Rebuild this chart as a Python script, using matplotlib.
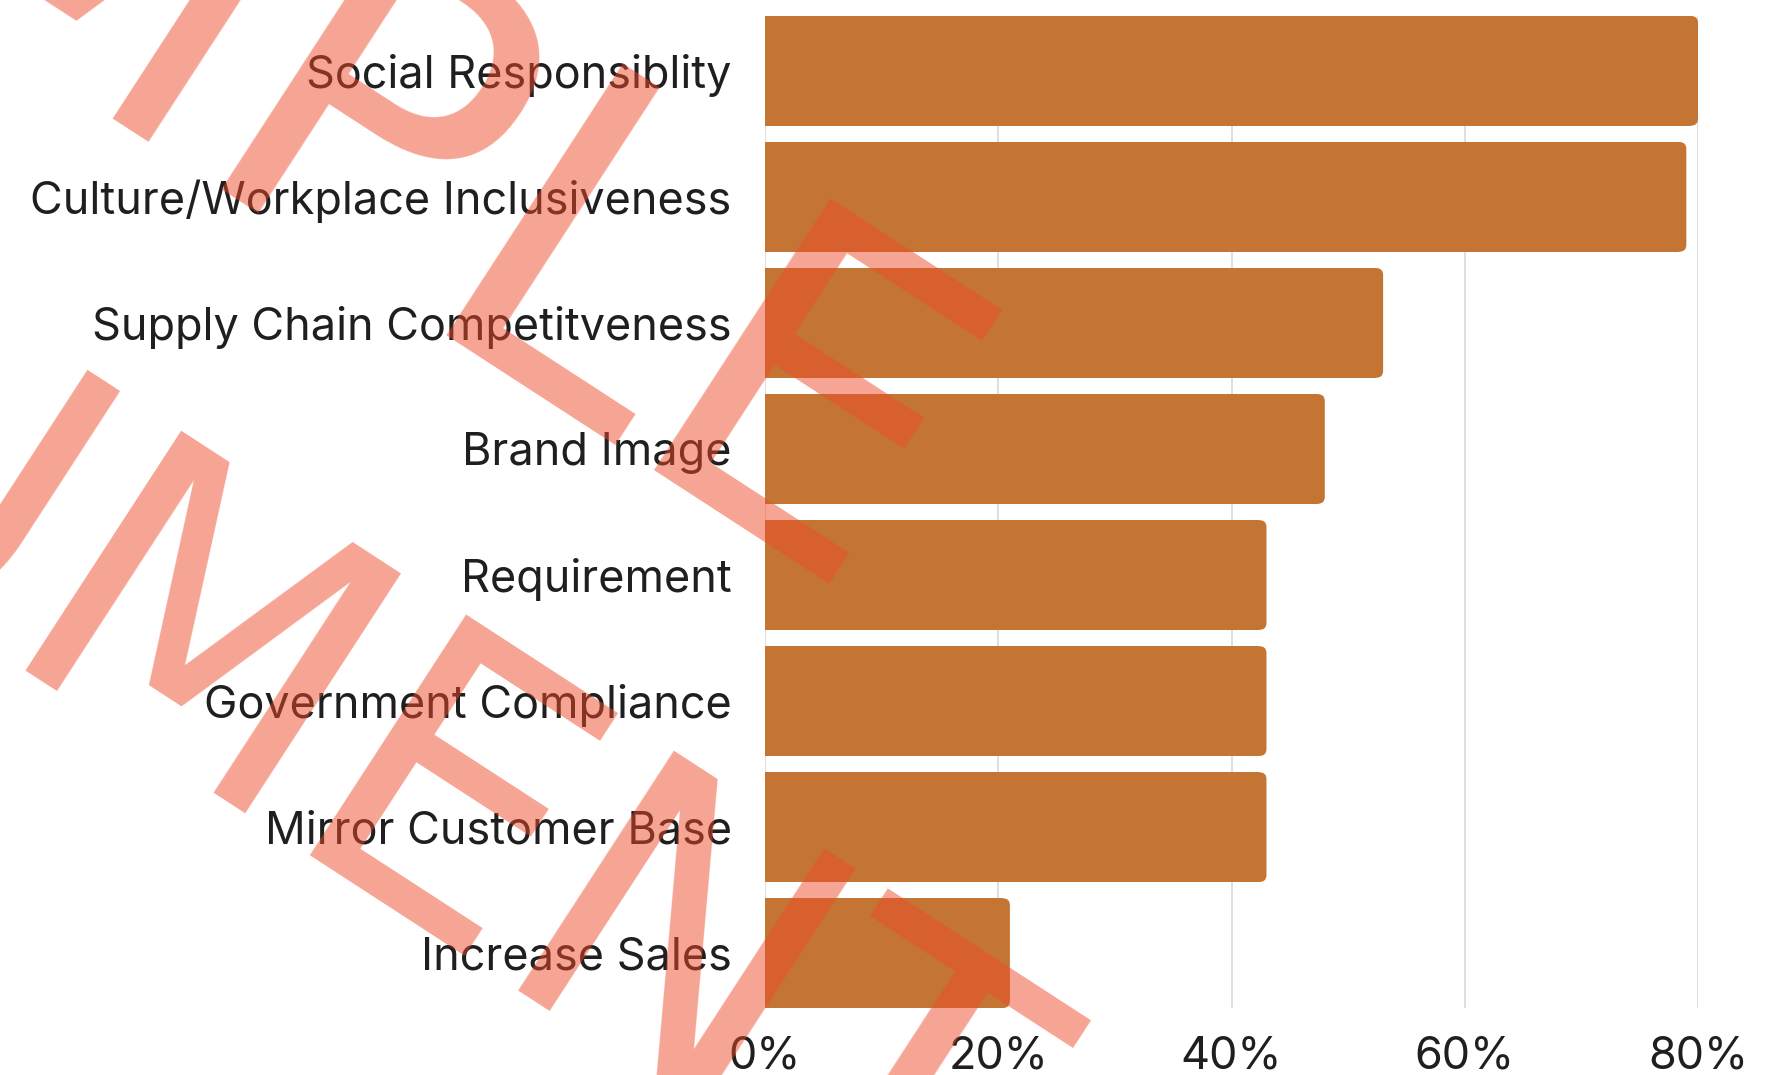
import numpy as np
from matplotlib import pyplot as plt
from matplotlib.patches import FancyBboxPatch
import matplotlib as mpl

mpl.rc('font', family=['Inter', 'DejaVu Sans'])

# data
reasons = ["Social Responsiblity", "Culture/Workplace Inclusiveness",
           "Supply Chain Competitveness", "Brand Image", "Requirement",
           "Government Compliance", "Mirror Customer Base", "Increase Sales"]
shares = [0.80, 0.79, 0.53, 0.48, 0.43, 0.43, 0.43, 0.21]
xticks = [0.0, 0.2, 0.4, 0.6, 0.8]
xticklabels = ["0%", "20%", "40%", "60%", "80%"]

bar_color = '#C47534'
grid_color = '#D9D9D9'
text_color = '#1F1F1F'

fig = plt.figure(figsize=(17.87, 10.75), dpi=100, facecolor='white')
ax = fig.add_axes([765/1787, 1 - 1008/1075, (1698 - 765)/1787, (1008 - 16)/1075])

ypos = np.arange(len(reasons))
bars = ax.barh(ypos, shares, height=0.87, color=bar_color, zorder=2, clip_on=False)

# round the right-hand corners: rounded copy on top, square bar keeps left side square
r = 0.006
for b in bars:
    x, y, w, h = b.get_x(), b.get_y(), b.get_width(), b.get_height()
    ax.add_patch(FancyBboxPatch((x, y), w, h, boxstyle=f"round,pad=0,rounding_size={r}",
                                mutation_aspect=9.2, facecolor=bar_color,
                                edgecolor='none', zorder=2, clip_on=False))
    b.set_width(w - r)

ax.set_xlim(0, 0.8)
ax.set_ylim(len(reasons) - 1 + 0.435, -0.435)
ax.set_xticks(xticks)
ax.set_xticklabels(xticklabels)
ax.set_yticks(ypos)
ax.set_yticklabels(reasons)
ax.tick_params(axis='both', length=0, labelsize=32.4, colors=text_color)
ax.tick_params(axis='y', pad=24)
ax.tick_params(axis='x', pad=20)
ax.xaxis.grid(True, color=grid_color, linewidth=1.2, zorder=0)
ax.set_axisbelow(True)
for s in ax.spines.values():
    s.set_visible(False)

# watermark over everything, two lines anchored at their right ends
wm = dict(color='#EE4B2B', alpha=0.5, rotation=-33, rotation_mode='anchor',
          ha='right', va='baseline', zorder=10, family='DejaVu Sans')
fig.text(0.4747, 0.4270, "SAMPLE", fontsize=320, **wm)
fig.text(0.5191, -0.1918, "DOCUMENT", fontsize=283, **wm)

fig.savefig('out.png', dpi=100)
